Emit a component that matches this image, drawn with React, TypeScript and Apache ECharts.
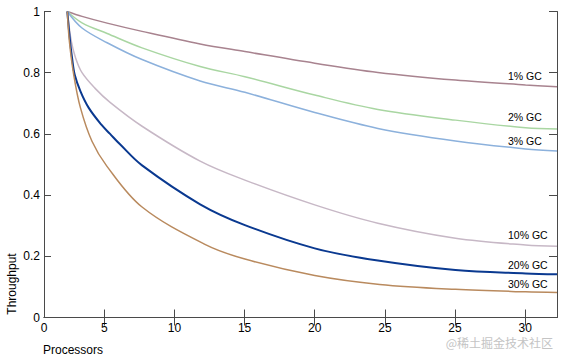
import React, { useEffect, useRef } from "react";
import * as echarts from "echarts";

// x positions are in axis-tick units (tick "5" at 5, ..., tick "30" at 35)
const tickPositions = [0.7, 5, 10, 15, 20, 25, 30, 35];
const tickLabels = ["0", "5", "10", "15", "20", "25", "25", "30"];
const xMin = 0.7;
const xMax = 37.27;

const seriesNames = ["1% GC", "2% GC", "3% GC", "10% GC", "20% GC", "30% GC"];
const seriesColors = ["#a8838f", "#a9d6a2", "#8cb1dc", "#c7b8c6", "#0a3990", "#b98a5e"];

const gc1: [number, number][] = [
  [2.36, 1], [3.41, 0.984], [5.2, 0.962], [7.69, 0.935], [11.83, 0.894], [15.02, 0.869],
  [20, 0.831], [24.5, 0.801], [30.03, 0.776], [35.03, 0.76], [37.27, 0.754],
];
const gc2: [number, number][] = [
  [2.36, 1], [3.41, 0.963], [5.2, 0.928], [7.69, 0.881], [11.83, 0.82], [15.02, 0.787],
  [20, 0.727], [24.5, 0.68], [30.03, 0.645], [35.03, 0.62], [37.27, 0.616],
];
const gc3: [number, number][] = [
  [2.36, 1], [3.41, 0.946], [5.2, 0.898], [7.69, 0.843], [11.83, 0.773], [15.02, 0.736],
  [20, 0.67], [24.5, 0.618], [30.03, 0.577], [35.03, 0.551], [37.27, 0.544],
];
const gc10: [number, number][] = [
  [2.36, 1], [2.65, 0.902], [2.94, 0.85], [3.41, 0.8], [4.36, 0.748], [5.41, 0.703],
  [7.69, 0.625], [11.83, 0.511], [15.02, 0.449], [20, 0.368], [24.5, 0.308],
  [30.03, 0.259], [35.03, 0.237], [37.27, 0.233],
];
const gc20: [number, number][] = [
  [2.36, 1], [2.56, 0.902], [2.7, 0.848], [2.89, 0.793], [3.3, 0.739], [3.89, 0.685],
  [4.79, 0.63], [5.41, 0.6], [6.12, 0.566], [7.69, 0.497], [11.83, 0.37],
  [15.02, 0.302], [20, 0.226], [24.5, 0.186], [30.03, 0.155], [35.03, 0.144], [37.27, 0.141],
];
const gc30: [number, number][] = [
  [2.36, 1], [2.51, 0.902], [2.82, 0.793], [3.3, 0.685], [4.12, 0.576], [5.19, 0.494],
  [7.69, 0.361], [12.17, 0.239], [15.02, 0.191], [20, 0.137], [24.63, 0.108],
  [30.03, 0.092], [35.03, 0.084], [37.27, 0.082],
];
const seriesData = [gc1, gc2, gc3, gc10, gc20, gc30];

const FONT = "'Liberation Sans', Arial, Helvetica, sans-serif";
const AXIS_COLOR = "#4a4a4a";

export default function App() {
  const ref = useRef<HTMLDivElement>(null);

  useEffect(() => {
    if (!ref.current) return;
    const chart = echarts.init(ref.current, null, { renderer: "svg" });

    const labelFor = (v: number) => {
      let best = 0;
      for (let i = 0; i < tickPositions.length; i++) {
        if (Math.abs(tickPositions[i] - v) < Math.abs(tickPositions[best] - v)) best = i;
      }
      return tickLabels[best];
    };

    const curveLabels = [
      { text: "1% GC", y: 76.7 },
      { text: "2% GC", y: 117.3 },
      { text: "3% GC", y: 141 },
      { text: "10% GC", y: 235.7 },
      { text: "20% GC", y: 265.7 },
      { text: "30% GC", y: 284.3 },
    ];

    chart.setOption({
      animation: false,
      textStyle: { fontFamily: FONT },
      grid: { left: 44, right: 7, top: 11.5, bottom: 44.5, containLabel: false, outerBoundsMode: "none" },
      xAxis: [
        {
          type: "value",
          position: "bottom",
          min: xMin,
          max: xMax,
          splitLine: { show: false },
          axisLine: { lineStyle: { color: AXIS_COLOR, width: 1 } },
          axisTick: {
            inside: true,
            length: 8,
            customValues: tickPositions.slice(1),
            lineStyle: { color: AXIS_COLOR },
          },
          axisLabel: {
            customValues: tickPositions,
            formatter: (v: number) => labelFor(v),
            color: "#000",
            fontSize: 12,
            fontFamily: FONT,
            margin: 4,
          },
        },
        {
          type: "value",
          position: "top",
          min: xMin,
          max: xMax,
          splitLine: { show: false },
          axisLine: { lineStyle: { color: AXIS_COLOR, width: 1 } },
          axisTick: {
            inside: true,
            length: 8,
            customValues: tickPositions.slice(1),
            lineStyle: { color: AXIS_COLOR },
          },
          axisLabel: { show: false },
        },
      ],
      yAxis: [
        {
          type: "value",
          position: "left",
          min: 0,
          max: 1,
          interval: 0.2,
          splitLine: { show: false },
          axisLine: { show: true, lineStyle: { color: AXIS_COLOR, width: 1 } },
          axisTick: { show: true, inside: true, length: 7, lineStyle: { color: AXIS_COLOR } },
          axisLabel: {
            color: "#000",
            fontSize: 12,
            fontFamily: FONT,
            margin: 4,
          },
        },
        {
          type: "value",
          position: "right",
          min: 0,
          max: 1,
          interval: 0.2,
          splitLine: { show: false },
          axisLine: { show: true, lineStyle: { color: AXIS_COLOR, width: 1 } },
          axisTick: { show: true, inside: true, length: 8, lineStyle: { color: AXIS_COLOR } },
          axisLabel: { show: false },
        },
      ],
      series: seriesNames.map((name, i) => ({
        name,
        type: "line",
        xAxisIndex: 0,
        yAxisIndex: 0,
        data: seriesData[i],
        showSymbol: false,
        symbol: "none",
        smooth: 0.35,
        lineStyle: { color: seriesColors[i], width: i === 4 ? 2 : 1.5 },
        itemStyle: { color: seriesColors[i] },
        z: 2,
      })),
      graphic: [
        ...curveLabels.map((l) => ({
          type: "text",
          left: 508,
          top: l.y - 6,
          style: { text: l.text, fill: "#000", font: `10.5px ${FONT}` },
          z: 10,
        })),
        {
          type: "text",
          x: 12,
          y: 284,
          rotation: Math.PI / 2,
          style: {
            text: "Throughput",
            fill: "#000",
            font: `12px ${FONT}`,
            align: "center",
            verticalAlign: "middle",
          },
        },
        {
          type: "text",
          left: 43,
          top: 344,
          style: { text: "Processors", fill: "#000", font: `12px ${FONT}` },
        },
        {
          type: "text",
          right: 11,
          top: 336,
          style: { text: "@稀土掘金技术社区", fill: "#c4c4c4", font: `12px 'Noto Sans CJK SC', sans-serif` },
        },
      ],
    });

    return () => chart.dispose();
  }, []);

  return (
    <div
      ref={ref}
      style={{ position: "fixed", left: 0, top: 0, width: 564, height: 362, background: "#fff" }}
    />
  );
}
